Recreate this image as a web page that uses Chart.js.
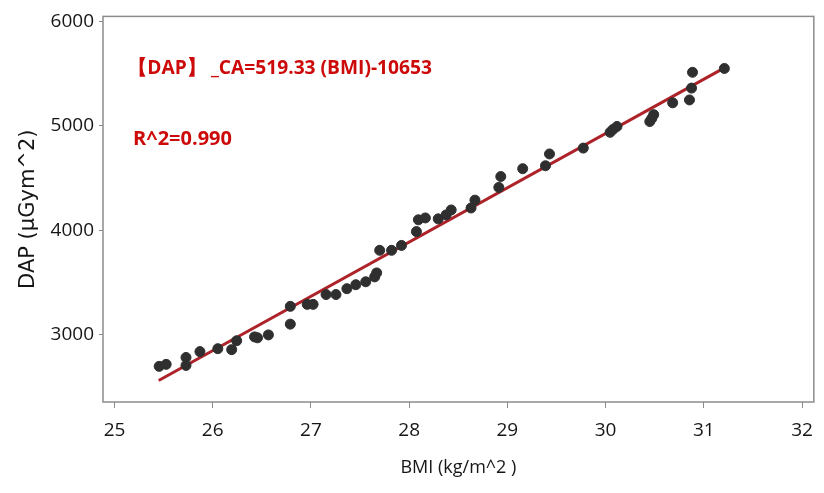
<!DOCTYPE html>
<html>
<head>
<meta charset="utf-8">
<script src="https://cdn.jsdelivr.net/npm/chart.js@4/dist/chart.umd.min.js"></script>
<style>
  html, body { margin: 0; padding: 0; background: #fff; }
  #wrap { width: 824px; height: 493px; position: relative; }
</style>
</head>
<body>
<div id="wrap"><canvas id="c" width="824" height="493"></canvas></div>
<script>
// BMI values (kg/m^2) of the measured patients
const bmi = [
  25.455, 25.526, 25.728, 25.728, 25.870, 26.052, 26.193, 26.244, 26.426, 26.456,
  26.567, 26.790, 26.790, 26.962, 27.022, 27.154, 27.255, 27.366, 27.457, 27.558,
  27.649, 27.669, 27.700, 27.821, 27.922, 28.074, 28.094, 28.165, 28.296, 28.377,
  28.428, 28.630, 28.670, 28.913, 28.933, 29.156, 29.388, 29.429, 29.773, 30.046,
  30.076, 30.116, 30.450, 30.470, 30.490, 30.683, 30.854, 30.875, 30.885, 31.209
];
// Dose-area product (µGym^2) for each patient
const dap = [
  2699, 2718, 2784, 2708, 2840, 2868, 2859, 2944, 2981, 2972,
  3000, 3273, 3103, 3292, 3292, 3386, 3386, 3442, 3480, 3508,
  3555, 3593, 3809, 3809, 3856, 3988, 4101, 4119, 4110, 4148,
  4195, 4214, 4289, 4411, 4515, 4590, 4618, 4731, 4787, 4938,
  4966, 4994, 5041, 5070, 5107, 5220, 5248, 5361, 5512, 5549
];
// Fitted regression: DAP = 519.33 * BMI - 10653
const fitSlope = 519.33;
const fitIntercept = -10653;
const fitRange = [25.45, 31.2];
const xTicks = [25, 26, 27, 28, 29, 30, 31, 32];
const yTicks = [3000, 4000, 5000, 6000];
const noteLines = ['【DAP】 _CA=519.33 (BMI)-10653', 'R^2=0.990'];

const points = bmi.map((x, i) => ({ x: x, y: dap[i] }));
const fitLine = fitRange.map(x => ({ x: x, y: fitSlope * x + fitIntercept }));

const tickFont = "'Open Sans', 'Noto Sans', sans-serif";

// Box around the plot area plus the fit equation text
const framePlugin = {
  id: 'frame',
  afterDraw(chart) {
    const { ctx, chartArea: a } = chart;
    ctx.save();
    ctx.strokeStyle = '#8c8c8c';
    ctx.lineWidth = 1.5;
    ctx.strokeRect(a.left, a.top, a.right - a.left, a.bottom - a.top);
    ctx.fillStyle = '#cc0a0a';
    ctx.font = "bold 20px 'Open Sans', sans-serif";
    ctx.textBaseline = 'middle';
    ctx.fillText(noteLines[0], a.left + 25, 68, 304);
    ctx.fillText(noteLines[1], a.left + 30, 139, 102);
    ctx.restore();
  }
};

new Chart(document.getElementById('c'), {
  type: 'scatter',
  data: {
    datasets: [
      {
        label: 'fit',
        type: 'line',
        data: fitLine,
        borderColor: '#ad2329',
        borderWidth: 3,
        pointRadius: 0,
        fill: false,
        order: 2
      },
      {
        label: 'DAP',
        data: points,
        backgroundColor: '#2f2f2f',
        borderColor: '#2f2f2f',
        pointRadius: 5,
        pointHoverRadius: 5,
        order: 1
      }
    ]
  },
  options: {
    responsive: false,
    animation: false,
    events: [],
    layout: { padding: { top: 11, right: 5, left: 0, bottom: 0 } },
    plugins: { legend: { display: false }, tooltip: { enabled: false } },
    scales: {
      x: {
        type: 'linear',
        min: 24.883,
        max: 32.12,
        afterBuildTicks(s) { s.ticks = xTicks.map(v => ({ value: v })); },
        afterFit(s) { s.height = 91; },
        grid: { drawOnChartArea: false, drawTicks: true, tickLength: 6, color: '#8c8c8c' },
        border: { display: false },
        ticks: {
          color: '#161616',
          font: { family: tickFont, size: 19 },
          padding: 11,
          callback: v => String(v)
        },
        title: {
          display: true,
          text: 'BMI (kg/m^2 )',
          color: '#161616',
          font: { family: tickFont, size: 18 },
          padding: { top: 0, bottom: 14 }
        }
      },
      y: {
        type: 'linear',
        min: 2358,
        max: 6047,
        afterBuildTicks(s) { s.ticks = yTicks.map(v => ({ value: v })); },
        afterFit(s) { s.width = 103; },
        grid: { drawOnChartArea: false, drawTicks: true, tickLength: 4, color: '#8c8c8c' },
        border: { display: false },
        ticks: {
          color: '#161616',
          font: { family: tickFont, size: 19 },
          padding: 5,
          callback: v => String(v)
        },
        title: {
          display: true,
          text: 'DAP (µGym^2)',
          color: '#161616',
          font: { family: "'DejaVu Sans', sans-serif", size: 21 },
          padding: { top: 16, bottom: 0 }
        }
      }
    }
  },
  plugins: [framePlugin]
});
</script>
</body>
</html>
